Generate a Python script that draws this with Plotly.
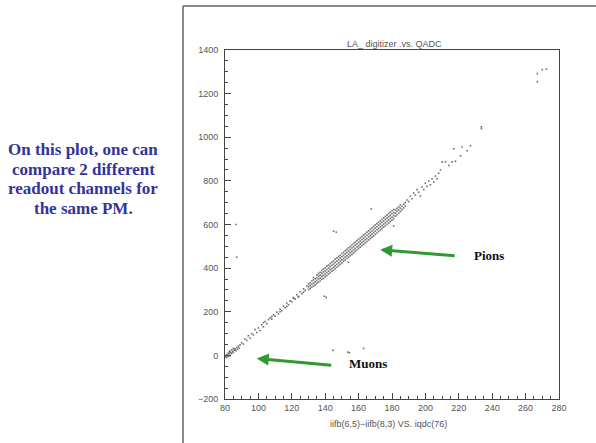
import plotly.graph_objects as go

# ---------------- data ----------------
muon_adc = [80.5, 81, 81, 81.5, 82, 82, 82.5, 82.5, 83, 83, 83.5, 84, 84, 84.5,
            85, 85, 85.5, 86, 86.5, 87, 87.5, 88, 88.5, 89]
muon_dig = [-6, -10, 4, 0, -4, 10, 6, 16, -2, 20, 12, 8, 26, 18,
            14, 32, 24, 30, 22, 36, 28, 42, 34, 48]

ramp_adc = [90, 91, 92, 93, 94, 95, 96, 97, 98, 99, 100, 101, 102, 103, 104, 105,
            106, 107, 108, 109, 110, 111, 112, 113, 114, 115, 116, 117, 118, 119,
            120, 121, 122, 123, 124, 125, 126, 127, 128, 129,
            103, 108, 113, 117, 121, 124, 127]
ramp_dig = [58, 52, 75, 68, 90, 80, 100, 94, 118, 105, 126, 114, 140, 131, 155, 146,
            164, 172, 166, 186, 180, 198, 190, 212, 205, 226, 218, 240, 232, 250,
            246, 265, 258, 278, 270, 292, 283, 305, 298, 318,
            150, 178, 200, 224, 262, 268, 290]

band_adc = list(range(130, 189))
band_dig = [
    [302, 314, 327], [306, 320, 333], [312, 326, 341], [318, 331, 346, 357],
    [322, 337, 351], [330, 343, 356, 369], [336, 350, 363, 376], [341, 354, 368, 381],
    [349, 362, 376, 389], [353, 367, 382, 396], [361, 373, 387, 401], [366, 380, 394, 409],
    [373, 386, 400, 414], [379, 393, 407, 421], [386, 398, 413, 427], [391, 404, 419, 433],
    [398, 411, 426, 441], [404, 418, 432, 447], [411, 424, 439, 453], [417, 431, 446, 459],
    [424, 438, 452, 467], [431, 444, 458, 472], [437, 451, 465, 480], [444, 457, 472, 486],
    [450, 464, 478, 493], [457, 471, 485, 499], [463, 477, 492, 506], [470, 484, 498, 513],
    [477, 490, 505, 519], [483, 497, 511, 526], [490, 503, 518, 532], [496, 510, 524, 539],
    [503, 517, 531, 545], [509, 523, 537, 552], [516, 530, 544, 558], [522, 536, 551, 565],
    [529, 543, 557, 571], [535, 549, 564, 578], [542, 556, 570, 585], [548, 563, 577, 591],
    [555, 569, 584, 598], [561, 576, 590, 604], [568, 582, 597, 611], [575, 589, 603, 617],
    [581, 595, 610, 624], [588, 602, 616, 630], [594, 608, 623, 637], [601, 615, 629, 643],
    [607, 621, 636, 650], [614, 628, 642, 656], [620, 634, 649, 663], [627, 641, 655, 669],
    [638, 652, 667], [645, 660, 674], [652, 667, 681], [660, 675, 690],
    [668, 684], [676, 693], [684, 700],
]

tail_adc = [189, 190, 191, 192, 193, 194, 195, 196, 197, 198, 199, 200, 201, 202,
            203, 204, 205, 206, 207, 208, 209, 210, 212, 214, 216, 218, 217, 221,
            222, 225, 227, 233.5, 233.5, 267, 267, 270, 272.5]
tail_dig = [712, 705, 730, 718, 745, 735, 760, 748, 730, 772, 760, 790, 775, 800,
            782, 810, 795, 822, 810, 835, 850, 887, 887, 870, 887, 890, 947, 915,
            955, 938, 960, 1048, 1040, 1255, 1292, 1310, 1312]

stray_adc = [86.5, 87, 139.5, 140.6, 145, 146.6, 153.8, 167.6, 181, 144.6, 153.5, 154.5, 163]
stray_dig = [600, 450, 271, 266, 570, 565, 427, 671, 593, 23, 15, 12, 32]

x_ticks = [80, 100, 120, 140, 160, 180, 200, 220, 240, 260, 280]
y_ticks = [-200, 0, 200, 400, 600, 800, 1000, 1200, 1400]

side_text = ["On this plot, one can", "compare 2 different",
             "readout channels for", "the same PM."]

# ---------------- assemble points ----------------
xs, ys = [], []
xs += muon_adc; ys += muon_dig
xs += ramp_adc; ys += ramp_dig
for a, col in zip(band_adc, band_dig):
    for d in col:
        xs.append(a); ys.append(d)
xs += tail_adc; ys += tail_dig
xs += stray_adc; ys += stray_dig

fig = go.Figure()
fig.add_trace(go.Scatter(
    x=xs, y=ys, mode="markers",
    marker=dict(symbol="square", size=1.6, color="#555555", opacity=0.85, line=dict(width=0)),
    hoverinfo="skip", showlegend=False,
))

tickfont = dict(family="Liberation Sans, Arial, sans-serif", size=9, color="#555")
axis_common = dict(
    showline=True, linecolor="#444", linewidth=1, mirror=True,
    ticks="inside", ticklen=6, tickwidth=1, tickcolor="#444",
    showgrid=False, zeroline=False, tickfont=tickfont,
)

fig.update_xaxes(range=[80, 280], tickvals=x_ticks, ticktext=[str(v) for v in x_ticks],
                 minor=dict(ticks="inside", ticklen=3, dtick=5, tick0=80, tickcolor="#444"),
                 **axis_common)
fig.update_yaxes(range=[-200, 1400], tickvals=y_ticks,
                 ticktext=[("\u2212" + str(-v)) if v < 0 else str(v) for v in y_ticks],
                 minor=dict(ticks="inside", ticklen=3, dtick=50, tick0=0, tickcolor="#444"),
                 ticklabelstandoff=4, **axis_common)

L, R, T, B = 225, 37, 50, 44
W, H = 596, 443
pw, ph = W - L - R, H - T - B


def px_x(p):
    return (p - L) / pw


def px_y(p):
    return (H - B - p) / ph


annotations = []
# chart title & axis title
annotations.append(dict(text="LA_ digitizer .vs. QADC", xref="paper", yref="paper",
                        x=px_x(394), y=px_y(44), showarrow=False,
                        xanchor="center", yanchor="middle",
                        font=dict(family="Liberation Sans, Arial", size=9, color="#555")))
annotations.append(dict(text="iifb(6,5)\u2212iifb(8,3) VS. iqdc(76)", xref="paper", yref="paper",
                        x=px_x(388), y=px_y(424), showarrow=False,
                        xanchor="center", yanchor="middle",
                        font=dict(family="Liberation Serif, Times New Roman, serif"
                                  if False else "Liberation Sans, Arial", size=9, color="#555")))
# side text
for i, line in enumerate(side_text):
    annotations.append(dict(text="<b>" + line + "</b>", xref="paper", yref="paper",
                            x=px_x(83), y=px_y(149.5 + 19.5 * i), showarrow=False,
                            xanchor="center", yanchor="middle",
                            font=dict(family="Liberation Serif, Times New Roman, serif",
                                      size=17, color="#33339a")))
# arrows
green = "#2f9a2f"
annotations.append(dict(text="", x=172.9, y=484, xref="x", yref="y",
                        ax=76, ay=6, showarrow=True, arrowhead=2, arrowsize=0.8,
                        arrowwidth=3, arrowcolor=green))
annotations.append(dict(text="", x=99.0, y=-14, xref="x", yref="y",
                        ax=76, ay=7, showarrow=True, arrowhead=2, arrowsize=0.8,
                        arrowwidth=3, arrowcolor=green))
annotations.append(dict(text="<b>Pions</b>", xref="paper", yref="paper",
                        x=px_x(472), y=px_y(256), xanchor="left", yanchor="middle",
                        showarrow=False,
                        font=dict(family="Liberation Serif, Times New Roman, serif",
                                  size=13, color="#111")))
annotations.append(dict(text="<b>Muons</b>", xref="paper", yref="paper",
                        x=px_x(347), y=px_y(363), xanchor="left", yanchor="middle",
                        showarrow=False,
                        font=dict(family="Liberation Serif, Times New Roman, serif",
                                  size=13, color="#111")))

shapes = [
    dict(type="line", xref="paper", yref="paper", x0=px_x(183), x1=px_x(183),
         y0=px_y(443), y1=px_y(6), line=dict(color="#666", width=1.5)),
    dict(type="line", xref="paper", yref="paper", x0=px_x(183), x1=px_x(596),
         y0=px_y(6), y1=px_y(6), line=dict(color="#666", width=1.5)),
]

fig.update_layout(
    width=W, height=H, autosize=False,
    margin=dict(l=L, r=R, t=T, b=B, pad=0),
    paper_bgcolor="white", plot_bgcolor="white",
    annotations=annotations, shapes=shapes, showlegend=False,
)

fig.write_html("out.html")
